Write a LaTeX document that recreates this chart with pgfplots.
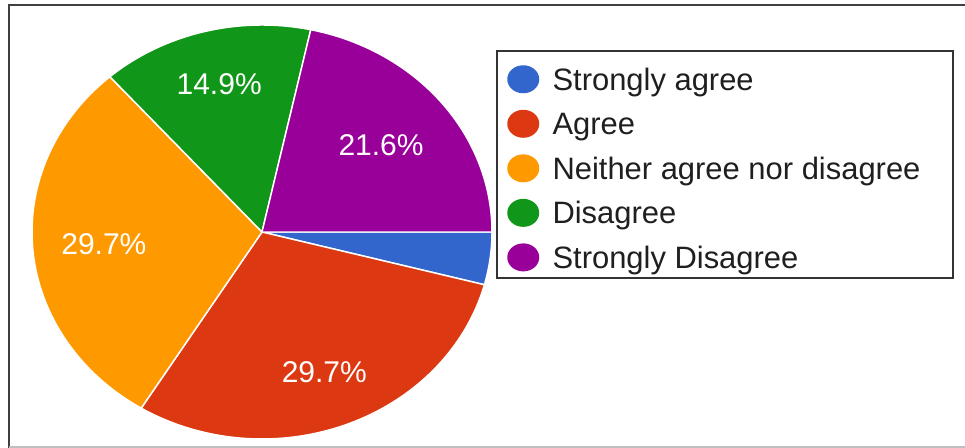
\documentclass[border=0pt]{standalone}
\usepackage{pgfplots}
\pgfplotsset{compat=1.18}
\usepackage{fontspec}
\setmainfont{Liberation Sans}
\definecolor{gblue}{HTML}{3366CC}
\definecolor{gred}{HTML}{DC3912}
\definecolor{gorange}{HTML}{FF9900}
\definecolor{ggreen}{HTML}{109618}
\definecolor{gpurple}{HTML}{990099}
% values (percent)
\def\vSA{4.1}
\def\vA{29.7}
\def\vN{29.7}
\def\vD{14.9}
\def\vSD{21.6}
\pgfmathsetmacro\cA{0}
\pgfmathsetmacro\cB{\cA+\vSA}
\pgfmathsetmacro\cC{\cB+\vA}
\pgfmathsetmacro\cD{\cC+\vN}
\pgfmathsetmacro\cE{\cD+\vD}
\pgfmathsetmacro\cF{\cE+\vSD}
\pgfmathsetmacro\aA{-3.6*\cA}
\pgfmathsetmacro\aB{-3.6*\cB}
\pgfmathsetmacro\aC{-3.6*\cC}
\pgfmathsetmacro\aD{-3.6*\cD}
\pgfmathsetmacro\aE{-3.6*\cE}
\pgfmathsetmacro\aF{-3.6*\cF}
\pgfmathsetmacro\mB{(\aB+\aC)/2}
\pgfmathsetmacro\mC{(\aC+\aD)/2}
\pgfmathsetmacro\mD{(\aD+\aE)/2}
\pgfmathsetmacro\mE{(\aE+\aF)/2}
\begin{document}
\begin{tikzpicture}
\useasboundingbox (0,0) rectangle (723.75pt,-336pt);
\draw[line width=2.2pt, color=black!75] (6.75pt,-340pt) -- (6.75pt,-3.75pt) -- (730pt,-3.75pt);
\draw[line width=1.5pt, color=black!25] (6.75pt,-335.25pt) -- (730pt,-335.25pt);
\begin{axis}[at={(196.5pt,-174pt)}, anchor=center, scale only axis,
  width=345pt, height=310.5pt, xmin=-1, xmax=1, ymin=-1, ymax=1,
  hide axis, clip=false,
  legend image code/.code={\fill[#1, draw=none] (12pt,0pt) ellipse [x radius=12pt, y radius=10.5pt]; \path (33.75pt,0pt);},
  legend cell align=left,
  legend style={at={(1.0326,0.9034)}, anchor=north west, draw=none, fill=none,
    inner sep=0pt, row sep=12.4pt, text=black!88,
    font=\fontsize{23.2}{27}\selectfont,
    nodes={inner sep=0pt, text height=16.6pt, text depth=0pt}},
]
\addplot[fill=gblue, draw=white, line width=1.1pt, domain=\aB:\aA, samples=30, forget plot] ({cos(x)},{sin(x)}) -- (0,0) -- cycle;
\addplot[fill=gred, draw=white, line width=1.1pt, domain=\aC:\aB, samples=90, forget plot] ({cos(x)},{sin(x)}) -- (0,0) -- cycle;
\addplot[fill=gorange, draw=white, line width=1.1pt, domain=\aD:\aC, samples=90, forget plot] ({cos(x)},{sin(x)}) -- (0,0) -- cycle;
\addplot[fill=ggreen, draw=white, line width=1.1pt, domain=\aE:\aD, samples=60, forget plot] ({cos(x)},{sin(x)}) -- (0,0) -- cycle;
\addplot[fill=gpurple, draw=white, line width=1.1pt, domain=\aF:\aE, samples=70, forget plot] ({cos(x)},{sin(x)}) -- (0,0) -- cycle;
\addlegendimage{fill=gblue}
\addlegendentry{Strongly agree}
\addlegendimage{fill=gred}
\addlegendentry{Agree}
\addlegendimage{fill=gorange}
\addlegendentry{Neither agree nor disagree}
\addlegendimage{fill=ggreen}
\addlegendentry{Disagree}
\addlegendimage{fill=gpurple}
\addlegendentry{Strongly Disagree}
\node[text=white, font=\fontsize{22.5}{27}\selectfont] at (axis cs:{0.73*cos(\mB)},{0.73*sin(\mB)}) {29.7\%};
\node[text=white, font=\fontsize{22.5}{27}\selectfont] at (axis cs:{0.69*cos(\mC)},{0.69*sin(\mC)}) {29.7\%};
\node[text=white, font=\fontsize{22.5}{27}\selectfont] at (axis cs:{0.74*cos(\mD)},{0.74*sin(\mD)}) {14.9\%};
\node[text=white, font=\fontsize{22.5}{27}\selectfont] at (axis cs:{0.665*cos(\mE)},{0.665*sin(\mE)}) {21.6\%};
\end{axis}
\draw[line width=1.6pt, color=black!80] (372.75pt,-38.25pt) rectangle (714.75pt,-208.5pt);
\end{tikzpicture}
\end{document}
